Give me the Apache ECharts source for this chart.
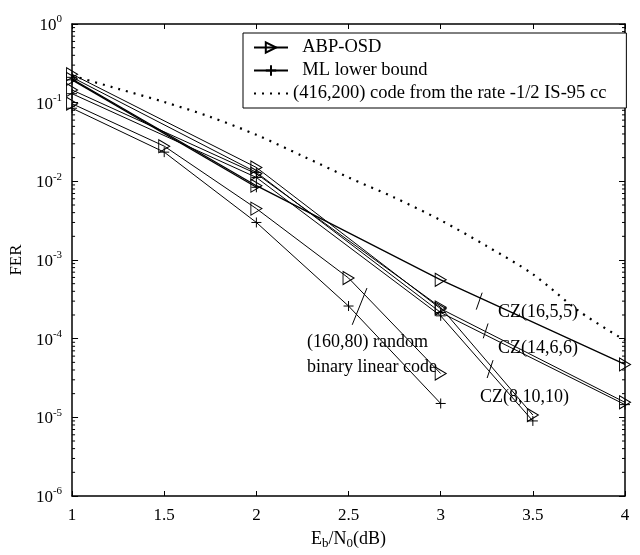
<!DOCTYPE html>
<html><head><meta charset="utf-8">
<script src="https://cdn.jsdelivr.net/npm/echarts@6/dist/echarts.min.js"></script>
<style>html,body{margin:0;padding:0;background:#fff}#c{width:640px;height:555px}</style>
</head><body><div id="c"></div>
<script>
const FONT = '"Liberation Serif", "Times New Roman", serif';

// ---- data ----
const xTicks = [1, 1.5, 2, 2.5, 3, 3.5, 4];
const yTicks = [1e-6, 1e-5, 1e-4, 1e-3, 1e-2, 1e-1, 1];

const xCZ16 = [1, 2, 3, 4];
const cz16_abp = [0.20, 0.0088, 5.6e-4, 4.7e-5];
const xCZ16ml = [1, 2];
const cz16_ml = [0.195, 0.0084];

const xCZ14 = [1, 2, 3, 4];
const cz14_abp = [0.23, 0.0150, 2.4e-4, 1.55e-5];
const cz14_ml  = [0.21, 0.0130, 2.15e-4, 1.45e-5];

const xCZ8 = [1, 2, 3, 3.5];
const cz8_abp = [0.145, 0.0125, 2.5e-4, 1.07e-5];
const cz8_ml  = [0.130, 0.0112, 1.95e-4, 9.0e-6];

const xRand = [1, 1.5, 2, 2.5, 3];
const rand_abp = [0.097, 0.028, 4.5e-3, 5.9e-4, 3.6e-5];
const rand_ml  = [0.085, 0.0235, 3.0e-3, 2.6e-4, 1.5e-5];

const xIS95 = [1, 1.25, 1.5, 1.75, 2, 2.25, 2.5, 2.75, 3, 3.25, 3.5, 3.75, 4];
const is95  = [0.22, 0.15, 0.102, 0.066, 0.039, 0.021, 0.0112, 0.0062, 0.0032, 0.0015, 6.6e-4, 2.24e-4, 0.95e-4];

// annotation slash marks, in data units [[x1,y1],[x2,y2]]
const slashes = [
  [[3.225, 3.84e-4], [3.193, 2.34e-4]],
  [[3.257, 1.56e-4], [3.231, 1.01e-4]],
  [[3.284, 5.33e-5], [3.252, 3.16e-5]],
  [[2.60, 4.4e-4], [2.52, 1.5e-4]]
];
const labels = [
  {text: 'CZ(16,5,5)', x: 498, y: 312},
  {text: 'CZ(14,6,6)', x: 498, y: 348},
  {text: 'CZ(8,10,10)', x: 480, y: 397},
  {text: '(160,80) random', x: 307, y: 342},
  {text: 'binary linear code', x: 307, y: 367}
];

const LEG_ABP = 'ABP-OSD', LEG_ML = 'ML lower bound', LEG_IS = '(416,200) code from the rate -1/2 IS-95 cc';
const TRI = 'path://M0,0L12,6L0,12Z';
const PLUS = 'path://M0,5L10,5M5,0L5,10';

function zip(xs, ys) { return xs.map((x, i) => [x, ys[i]]); }
function abp(xs, ys, w) {
  return {name: LEG_ABP, type: 'line', data: zip(xs, ys), symbol: TRI, symbolSize: [11, 13],
    itemStyle: {color: 'rgba(0,0,0,0)', borderColor: '#000', borderWidth: 1},
    lineStyle: {color: '#000', width: w || 1}, emphasis: {disabled: true}, z: 3};
}
function ml(xs, ys, w) {
  return {name: LEG_ML, type: 'line', data: zip(xs, ys), symbol: PLUS, symbolSize: 10,
    itemStyle: {color: '#000', borderColor: '#000', borderWidth: 1},
    lineStyle: {color: '#000', width: w || 1}, emphasis: {disabled: true}, z: 3};
}

const series = [
  abp(xCZ16, cz16_abp, 1.3), ml(xCZ16ml, cz16_ml, 1.3),
  abp(xCZ14, cz14_abp), ml(xCZ14, cz14_ml),
  abp(xCZ8, cz8_abp), ml(xCZ8, cz8_ml),
  abp(xRand, rand_abp), ml(xRand, rand_ml),
  {name: LEG_IS, type: 'line', data: zip(xIS95, is95), symbol: 'none', smooth: 0.3,
   itemStyle: {color: '#000'},
   lineStyle: {color: '#000', width: 2.2, type: [2, 6]}, emphasis: {disabled: true}}
];
slashes.forEach(s => series.push({type: 'line', data: s, symbol: 'none', silent: true,
  lineStyle: {color: '#000', width: 1}, emphasis: {disabled: true}}));

const axisLineStyle = {show: true, lineStyle: {color: '#000', width: 1.5}};
const yLabelRich = {
  b: {fontFamily: FONT, fontSize: 17, color: '#000', verticalAlign: 'bottom', lineHeight: 20},
  s: {fontFamily: FONT, fontSize: 11, color: '#000', verticalAlign: 'top', lineHeight: 20}
};
function yFmt(v) { const e = Math.round(Math.log10(v)); return '{b|10}{s|' + e + '}'; }

const chart = echarts.init(document.getElementById('c'), null, {renderer: 'canvas'});
chart.setOption({
  animation: false,
  backgroundColor: '#fff',
  grid: {left: 64, right: 15, top: 24, bottom: 55},
  legend: {
    orient: 'vertical', left: 243, top: 33, itemWidth: 34, itemHeight: 13, itemGap: 4,
    padding: [5, 20, 5, 10], borderColor: '#000', borderWidth: 1, backgroundColor: '#fff',
    data: [LEG_ABP, LEG_ML, {name: LEG_IS, itemStyle: {opacity: 0}}], selectedMode: false,
    formatter: n => n === LEG_IS ? n : '  ' + n,
    textStyle: {fontFamily: FONT, fontSize: 18.5, color: '#000'}
  },
  xAxis: [
    {type: 'value', min: 1, max: 4, interval: 0.5, position: 'bottom',
     axisLine: axisLineStyle, axisTick: {inside: true, length: 5, lineStyle: {color: '#000'}},
     splitLine: {show: false},
     axisLabel: {fontFamily: FONT, fontSize: 17, color: '#000', margin: 11, formatter: v => String(v)},
     name: '{n|E}{sub|b}{n|/N}{sub|0}{n|(dB)}', nameLocation: 'middle', nameGap: 33,
     nameTextStyle: {rich: {
       n: {fontFamily: FONT, fontSize: 18, color: '#000'},
       sub: {fontFamily: FONT, fontSize: 13, color: '#000', verticalAlign: 'bottom', padding: [8, 0, 0, 0]}}}},
    {type: 'value', min: 1, max: 4, interval: 0.5, position: 'top',
     axisLine: axisLineStyle, axisTick: {inside: true, length: 5, lineStyle: {color: '#000'}},
     axisLabel: {show: false}, splitLine: {show: false}}
  ],
  yAxis: [
    {type: 'log', logBase: 10, min: 1e-6, max: 1, position: 'left',
     axisLine: axisLineStyle, axisTick: {inside: true, length: 6, lineStyle: {color: '#000'}},
     splitLine: {show: false},
     axisLabel: {formatter: yFmt, rich: yLabelRich, margin: 10},
     name: 'FER', nameLocation: 'middle', nameGap: 38, nameRotate: 90,
     nameTextStyle: {fontFamily: FONT, fontSize: 17, color: '#000'}},
    {type: 'log', logBase: 10, min: 1e-6, max: 1, position: 'right',
     axisLine: axisLineStyle, axisTick: {inside: true, length: 6, lineStyle: {color: '#000'}},
     axisLabel: {show: false}, splitLine: {show: false}}
  ],
  series: series
});

// log-spaced minor ticks (2..9 per decade) on both vertical sides, positioned via the axis scale
const g = [];
const xl = chart.convertToPixel({xAxisIndex: 0}, 1);
const xr = chart.convertToPixel({xAxisIndex: 0}, 4);
for (let d = -6; d < 0; d++) {
  for (let m = 2; m <= 9; m++) {
    const y = chart.convertToPixel({yAxisIndex: 0}, m * Math.pow(10, d));
    g.push({type: 'line', shape: {x1: xl, y1: y, x2: xl + 3, y2: y}, style: {stroke: '#000', lineWidth: 1}});
    g.push({type: 'line', shape: {x1: xr - 3, y1: y, x2: xr, y2: y}, style: {stroke: '#000', lineWidth: 1}});
  }
}
labels.forEach(l => g.push({type: 'text', x: l.x, y: l.y, z: 10,
  style: {text: l.text, fontFamily: FONT, fontSize: 18, fill: '#000', verticalAlign: 'middle', textAlign: 'left'}}));
chart.setOption({graphic: g});
</script>
</body></html>
